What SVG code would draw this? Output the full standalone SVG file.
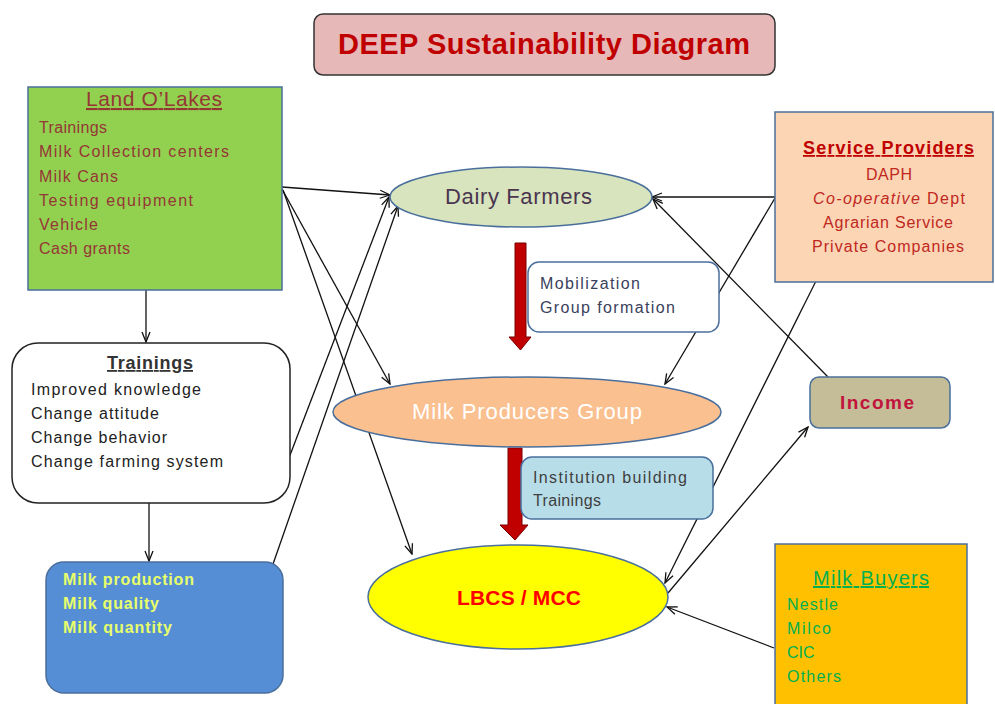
<svg xmlns="http://www.w3.org/2000/svg" width="995" height="704" viewBox="0 0 995 704">
  <defs>
    <marker id="arrow" markerUnits="userSpaceOnUse" viewBox="0 0 12 10" markerWidth="12" markerHeight="10" refX="11" refY="5" orient="auto">
      <path d="M1,1 L11,5 L1,9" fill="none" stroke="#111" stroke-width="1.3"/>
    </marker>
  </defs>
  <style>
    text { font-family: "Liberation Sans", Arial, sans-serif; }
    .item { font-size: 16px; }
    .edge { fill: none; stroke: #111; stroke-width: 1.3; marker-end: url(#arrow); }
    .blue { stroke: #4a6f9c; stroke-width: 1.5; }
    .bigarrow { fill: #c00000; stroke: #7a0000; stroke-width: 1; }
  </style>

  <rect width="995" height="704" fill="#ffffff"/>

  <!-- title -->
  <g id="title">
    <rect x="314" y="14" width="461" height="61" rx="9" fill="#e6b8b7" stroke="#333" stroke-width="1.5"/>
    <text x="544" y="54" text-anchor="middle" font-size="29" font-weight="bold" fill="#c00000" textLength="412" lengthAdjust="spacing">DEEP Sustainability Diagram</text>
  </g>

  <!-- connectors -->
  <g id="connectors">
    <!-- Land O'Lakes outputs -->
    <line class="edge" x1="282" y1="187" x2="390" y2="195"/>
    <line class="edge" x1="282" y1="189" x2="390" y2="384"/>
    <line class="edge" x1="283" y1="190" x2="412" y2="554"/>
    <line class="edge" x1="146" y1="290" x2="146" y2="342"/>
    <!-- Trainings and milk results back to farmers -->
    <line class="edge" x1="287" y1="463" x2="389" y2="197"/>
    <line class="edge" x1="272" y1="567" x2="398" y2="206"/>
    <line class="edge" x1="149" y1="503" x2="149" y2="561"/>
    <!-- Service Providers -->
    <line class="edge" x1="775" y1="197" x2="652" y2="197"/>
    <line class="edge" x1="775" y1="198" x2="665" y2="384"/>
    <line class="edge" x1="818" y1="277" x2="665" y2="583"/>
    <!-- Income loop -->
    <line class="edge" x1="828" y1="377" x2="653" y2="199"/>
    <line class="edge" x1="668" y1="593" x2="808" y2="427"/>
    <!-- Milk Buyers -->
    <line class="edge" x1="774" y1="648" x2="667" y2="607"/>
    <!-- flow arrows between stages -->
    <path class="bigarrow" d="M515,243 H526 V337 H531 L520.5,350 L509,337 H515 Z"/>
    <path class="bigarrow" d="M508,448 H522 V525 H528 L515,540 L500,525 H508 Z"/>
  </g>

  <g id="land-olakes">
    <rect x="28" y="87" width="254" height="203" fill="#92d050" class="blue"/>
    <text x="154" y="106" text-anchor="middle" font-size="21" fill="#953735" text-decoration="underline" textLength="136" lengthAdjust="spacing">Land O’Lakes</text>
    <g class="item" fill="#953735">
      <text x="39" y="133" textLength="68" lengthAdjust="spacing">Trainings</text>
      <text x="39" y="157" textLength="190" lengthAdjust="spacing">Milk Collection centers</text>
      <text x="39" y="182" textLength="79" lengthAdjust="spacing">Milk Cans</text>
      <text x="39" y="206" textLength="154" lengthAdjust="spacing">Testing equipment</text>
      <text x="39" y="230" textLength="59" lengthAdjust="spacing">Vehicle</text>
      <text x="39" y="254" textLength="91" lengthAdjust="spacing">Cash grants</text>
    </g>
  </g>

  <g id="trainings">
    <rect x="12" y="343" width="278" height="160" rx="26" fill="#ffffff" stroke="#222" stroke-width="1.5"/>
    <text x="150" y="369" text-anchor="middle" font-size="18" font-weight="bold" fill="#333" text-decoration="underline" textLength="86" lengthAdjust="spacing">Trainings</text>
    <g class="item" fill="#222">
      <text x="31" y="395" textLength="170" lengthAdjust="spacing">Improved knowledge</text>
      <text x="31" y="419" textLength="128" lengthAdjust="spacing">Change attitude</text>
      <text x="31" y="443" textLength="136" lengthAdjust="spacing">Change behavior</text>
      <text x="31" y="467" textLength="192" lengthAdjust="spacing">Change farming  system</text>
    </g>
  </g>

  <g id="milk-results">
    <rect x="46" y="562" width="237" height="131" rx="18" fill="#558ed5" class="blue"/>
    <g class="item" fill="#e8ff6a" font-weight="bold">
      <text x="63" y="585" textLength="131" lengthAdjust="spacing">Milk production</text>
      <text x="63" y="609" textLength="96" lengthAdjust="spacing">Milk quality</text>
      <text x="63" y="633" textLength="109" lengthAdjust="spacing">Milk quantity</text>
    </g>
  </g>

  <g id="dairy-farmers">
    <ellipse cx="521" cy="197" rx="131" ry="30" fill="#d7e4bd" class="blue"/>
    <text x="518.5" y="204" text-anchor="middle" font-size="22" fill="#4a3550" textLength="147" lengthAdjust="spacing">Dairy Farmers</text>
  </g>

  <g id="mobilization">
    <rect x="528" y="262" width="191" height="70" rx="11" fill="#ffffff" class="blue"/>
    <g class="item" fill="#3a3f5c">
      <text x="540" y="289" textLength="100" lengthAdjust="spacing">Mobilization</text>
      <text x="540" y="313" textLength="135" lengthAdjust="spacing">Group formation</text>
    </g>
  </g>

  <g id="milk-producers-group">
    <ellipse cx="527" cy="412" rx="194" ry="35" fill="#fac090" class="blue"/>
    <text x="527" y="419" text-anchor="middle" font-size="22" fill="#ffffff" textLength="230" lengthAdjust="spacing">Milk Producers  Group</text>
  </g>

  <g id="institution-building">
    <rect x="521" y="457" width="192" height="62" rx="11" fill="#b7dde8" class="blue"/>
    <g class="item" fill="#3f3f3f">
      <text x="533" y="483" textLength="154" lengthAdjust="spacing">Institution building</text>
      <text x="533" y="506" textLength="68" lengthAdjust="spacing">Trainings</text>
    </g>
  </g>

  <g id="lbcs-mcc">
    <ellipse cx="518" cy="597" rx="150" ry="52" fill="#ffff00" class="blue"/>
    <text x="519" y="605" text-anchor="middle" font-size="21" font-weight="bold" fill="#ff0000" textLength="124" lengthAdjust="spacing">LBCS / MCC</text>
  </g>

  <g id="service-providers">
    <rect x="775" y="112" width="218" height="170" fill="#fcd5b5" class="blue"/>
    <text x="888.5" y="154" text-anchor="middle" font-size="18" font-weight="bold" fill="#c00000" text-decoration="underline" textLength="171" lengthAdjust="spacing">Service Providers</text>
    <g class="item" fill="#c0281e" text-anchor="middle">
      <text x="889" y="180" textLength="46" lengthAdjust="spacing">DAPH</text>
      <text x="889" y="204" textLength="152" lengthAdjust="spacing"><tspan font-style="italic">Co-operative</tspan> Dept</text>
      <text x="888" y="228" textLength="130" lengthAdjust="spacing">Agrarian  Service</text>
      <text x="888" y="252" textLength="152" lengthAdjust="spacing">Private  Companies</text>
    </g>
  </g>

  <g id="income">
    <rect x="810" y="377" width="140" height="51" rx="9" fill="#c4bd97" class="blue"/>
    <text x="877" y="409" text-anchor="middle" font-size="19" font-weight="bold" fill="#c0143c" textLength="74" lengthAdjust="spacing">Income</text>
  </g>

  <g id="milk-buyers">
    <rect x="775" y="544" width="192" height="170" fill="#ffc000" class="blue"/>
    <text x="871" y="585" text-anchor="middle" font-size="20" fill="#00b050" text-decoration="underline" textLength="116" lengthAdjust="spacing">Milk Buyers</text>
    <g class="item" fill="#00b050">
      <text x="787" y="610" textLength="51" lengthAdjust="spacing">Nestle</text>
      <text x="787" y="634" textLength="44" lengthAdjust="spacing">Milco</text>
      <text x="787" y="658">CIC</text>
      <text x="787" y="682" textLength="54" lengthAdjust="spacing">Others</text>
    </g>
  </g>
</svg>
